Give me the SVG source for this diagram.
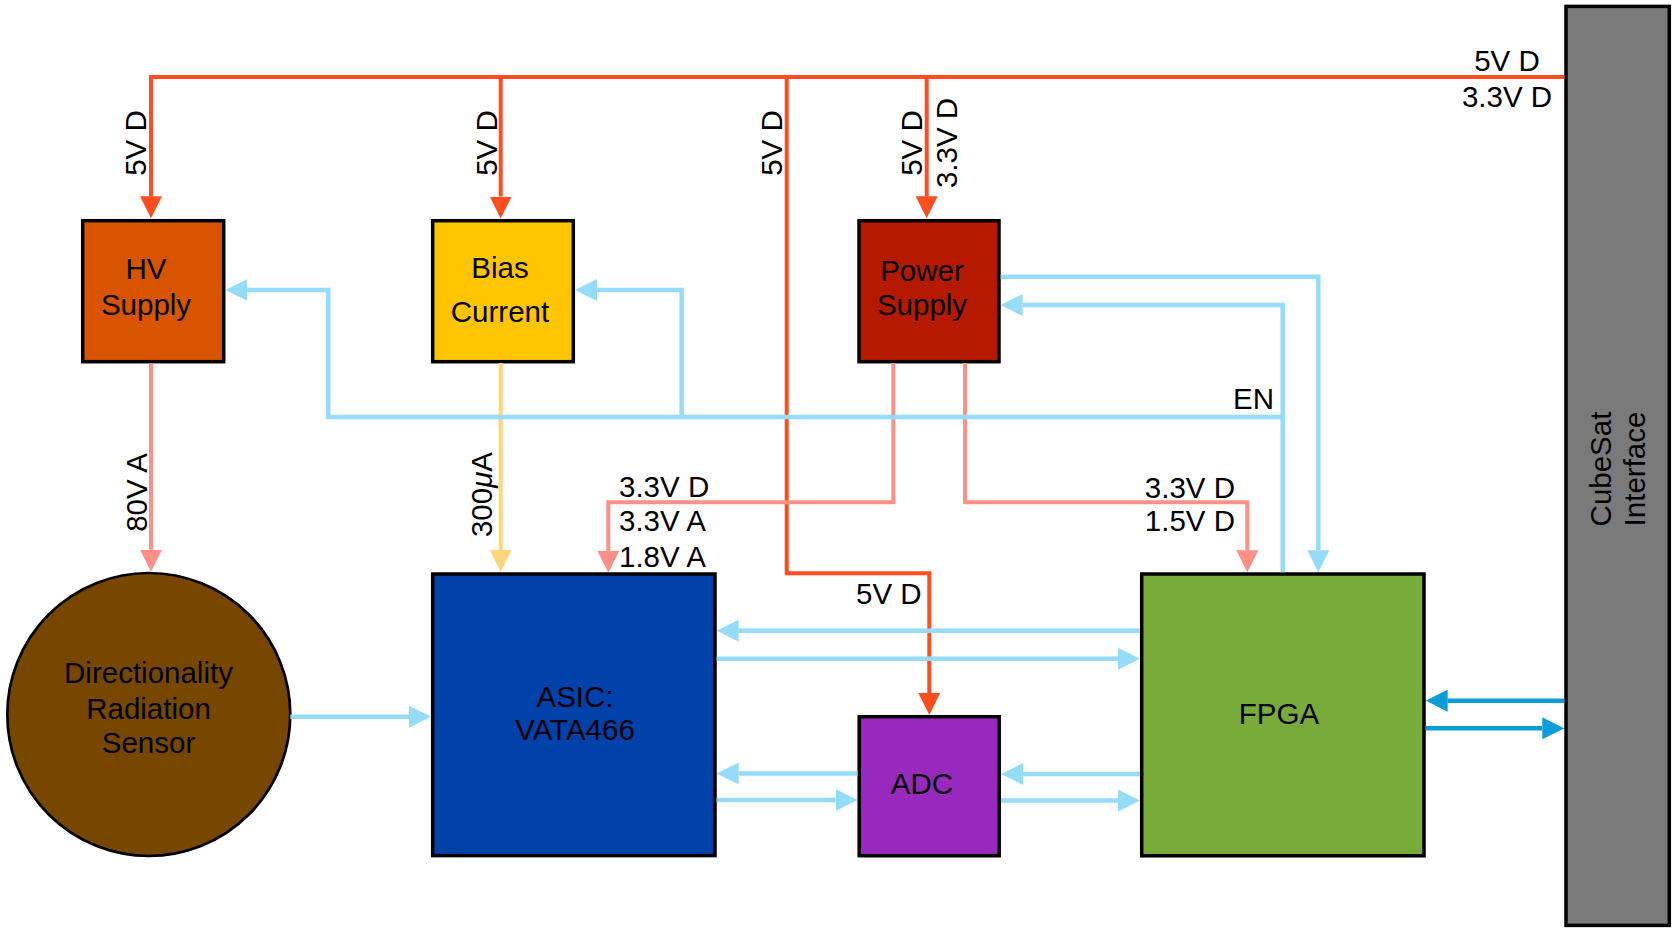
<svg xmlns="http://www.w3.org/2000/svg" width="1676" height="936" viewBox="0 0 1676 936">
  <style>
    text { font-family: "Liberation Sans", Arial, Helvetica, sans-serif; font-size: 29.5px; fill: #000; }
    .mid { text-anchor: middle; }
    .end { text-anchor: end; }
    .box { stroke: #000; stroke-width: 3.5; }
    .red { fill: none; stroke: #FF4D1F; stroke-width: 4; }
    .pink { fill: none; stroke: #FF8F87; stroke-width: 4; }
    .yel { fill: none; stroke: #FFD47A; stroke-width: 4; }
    .blue { fill: none; stroke: #95DCFA; stroke-width: 4.5; }
    .dblue { fill: none; stroke: #0A9ED8; stroke-width: 4.5; }
  </style>
  <defs>
    <marker id="aRed" viewBox="0 0 22 22" refX="0" refY="11" markerWidth="22" markerHeight="22" markerUnits="userSpaceOnUse" orient="auto"><path d="M0,0 L22,11 L0,22 Z" fill="#FF4D1F"/></marker>
    <marker id="aPink" viewBox="0 0 22 22" refX="0" refY="11" markerWidth="22" markerHeight="22" markerUnits="userSpaceOnUse" orient="auto"><path d="M0,0 L22,11 L0,22 Z" fill="#FF8F87"/></marker>
    <marker id="aYel" viewBox="0 0 22 22" refX="0" refY="11" markerWidth="22" markerHeight="22" markerUnits="userSpaceOnUse" orient="auto"><path d="M0,0 L22,11 L0,22 Z" fill="#FFD47A"/></marker>
    <marker id="aBlue" viewBox="0 0 22 22" refX="0" refY="11" markerWidth="22" markerHeight="22" markerUnits="userSpaceOnUse" orient="auto"><path d="M0,0 L22,11 L0,22 Z" fill="#95DCFA"/></marker>
    <marker id="aDBlue" viewBox="0 0 22 22" refX="0" refY="11" markerWidth="22" markerHeight="22" markerUnits="userSpaceOnUse" orient="auto"><path d="M0,0 L22,11 L0,22 Z" fill="#0A9ED8"/></marker>
  </defs>
  <rect width="1676" height="936" fill="#fff"/>

  <g id="hv-supply">
    <rect class="box" x="82.7" y="220.7" width="141" height="141" fill="#D85400"/>
    <text class="mid" x="146" y="279.3">HV</text>
    <text class="mid" x="146" y="315">Supply</text>
  </g>
  <g id="bias-current">
    <rect class="box" x="432.7" y="220.7" width="140.6" height="141" fill="#FFC600"/>
    <text class="mid" x="500" y="278">Bias</text>
    <text class="mid" x="500" y="321.7">Current</text>
  </g>
  <g id="power-supply">
    <rect class="box" x="859" y="220.7" width="140" height="141" fill="#B51A00"/>
    <text class="mid" x="922" y="280.7">Power</text>
    <text class="mid" x="922" y="315">Supply</text>
  </g>
  <g id="sensor">
    <circle cx="148.8" cy="714.5" r="141.5" fill="#774700" stroke="#000" stroke-width="2.7"/>
    <text class="mid" x="148.5" y="683.3">Directionality</text>
    <text class="mid" x="148.5" y="719.3">Radiation</text>
    <text class="mid" x="148.5" y="753.3">Sensor</text>
  </g>
  <g id="asic">
    <rect class="box" x="432.7" y="574" width="282.3" height="281.6" fill="#0042A9"/>
    <text class="mid" x="575" y="706.5">ASIC:</text>
    <text class="mid" x="575" y="740">VATA466</text>
  </g>
  <g id="adc">
    <rect class="box" x="859.2" y="716.7" width="140" height="139" fill="#9929BD"/>
    <text class="mid" x="922" y="794">ADC</text>
  </g>
  <g id="fpga">
    <rect class="box" x="1141.7" y="574" width="282.3" height="281.8" fill="#78AB3A"/>
    <text class="mid" x="1279" y="723.5">FPGA</text>
  </g>
  <g id="cubesat">
    <rect class="box" x="1566" y="6.4" width="103.3" height="919" fill="#7A7A7A"/>
    <text class="mid" transform="translate(1611,469) rotate(-90)">CubeSat</text>
    <text class="mid" transform="translate(1645,469) rotate(-90)">Interface</text>
  </g>

  <g id="connectors">
    <!-- power bus -->
    <path class="red" d="M1564.3,77 H151 V196.3" marker-end="url(#aRed)"/>
    <path class="red" d="M500.7,77 V196.5" marker-end="url(#aRed)"/>
    <path class="red" d="M926.7,77 V196.3" marker-end="url(#aRed)"/>
    <path class="red" d="M786.7,77 V573.3 H929.3 V693" marker-end="url(#aRed)"/>
    <!-- derived supplies -->
    <path class="pink" d="M151,363.3 V549.7" marker-end="url(#aPink)"/>
    <path class="pink" d="M893.3,363 V502.3 H608.3 V550.7" marker-end="url(#aPink)"/>
    <path class="pink" d="M965,363 V502.3 H1247.3 V550.3" marker-end="url(#aPink)"/>
    <path class="yel" d="M500.7,363 V550" marker-end="url(#aYel)"/>
    <!-- control / data -->
    <path class="blue" d="M1282.7,572.3 V305 H1022.7" marker-end="url(#aBlue)"/>
    <path class="blue" d="M1282.7,417 H328.3 V290 H247.3" marker-end="url(#aBlue)"/>
    <path class="blue" d="M681.7,417 V290 H597" marker-end="url(#aBlue)"/>
    <path class="blue" d="M1000.7,276.7 H1318.3 V550.3" marker-end="url(#aBlue)"/>
    <path class="blue" d="M290.3,716.7 H409" marker-end="url(#aBlue)"/>
    <path class="blue" d="M1140,630.7 H738.7" marker-end="url(#aBlue)"/>
    <path class="blue" d="M716.7,658.7 H1118" marker-end="url(#aBlue)"/>
    <path class="blue" d="M857.5,773.5 H738.7" marker-end="url(#aBlue)"/>
    <path class="blue" d="M716.7,800 H835.5" marker-end="url(#aBlue)"/>
    <path class="blue" d="M1140,774 H1023" marker-end="url(#aBlue)"/>
    <path class="blue" d="M1001,800.5 H1118" marker-end="url(#aBlue)"/>
    <path class="dblue" d="M1564.3,700.7 H1447.7" marker-end="url(#aDBlue)"/>
    <path class="dblue" d="M1425.7,728.3 H1542.3" marker-end="url(#aDBlue)"/>
  </g>

  <g id="labels">
    <text class="mid" x="1507" y="71">5V D</text>
    <text class="mid" x="1507" y="106.7">3.3V D</text>
    <text class="mid" transform="translate(146,143) rotate(-90)">5V D</text>
    <text class="mid" transform="translate(496.7,143) rotate(-90)">5V D</text>
    <text class="mid" transform="translate(781.7,143) rotate(-90)">5V D</text>
    <text class="mid" transform="translate(921.7,143) rotate(-90)">5V D</text>
    <text class="mid" transform="translate(956.7,143) rotate(-90)">3.3V D</text>
    <text class="mid" transform="translate(147,492.5) rotate(-90)">80V A</text>
    <text class="mid" transform="translate(492,494.5) rotate(-90)">300<tspan font-style="italic">μ</tspan>A</text>
    <text class="end" x="1274" y="409">EN</text>
    <text x="619" y="497.3">3.3V D</text>
    <text x="619" y="530.7">3.3V A</text>
    <text x="619" y="566.7">1.8V A</text>
    <text class="end" x="1235" y="497.7">3.3V D</text>
    <text class="end" x="1235" y="531">1.5V D</text>
    <text x="856" y="604.3">5V D</text>
  </g>
</svg>
